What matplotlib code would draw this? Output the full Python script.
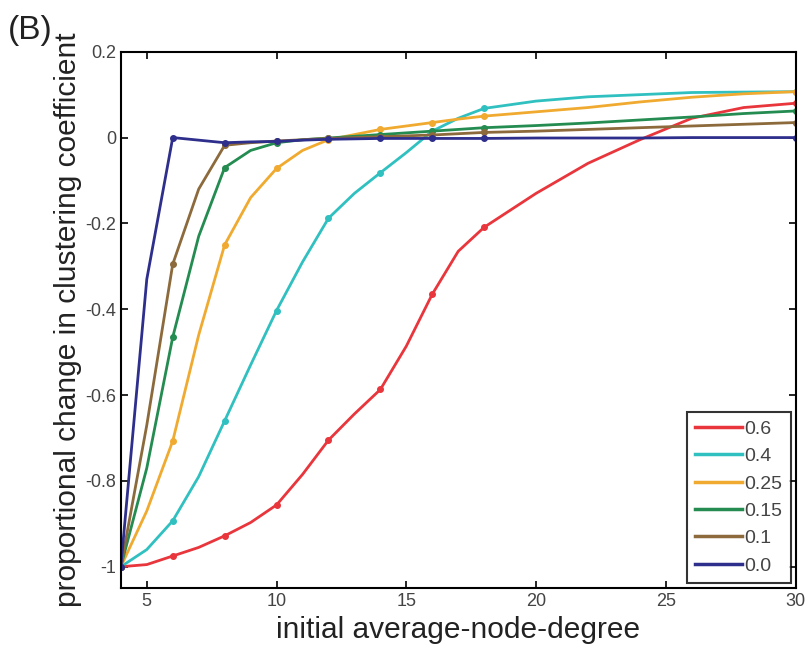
import matplotlib

matplotlib.use("Agg")
import matplotlib.pyplot as plt
from matplotlib.lines import Line2D

# initial average node degree (markers only on the even steps up to 18 and at 30)
degree = [4, 5, 6, 7, 8, 9, 10, 11, 12, 13, 14, 15, 16, 17, 18, 20, 22, 24, 26, 28, 30]
marked_degrees = [4, 6, 8, 10, 12, 14, 16, 18, 30]

labels = ["0.6", "0.4", "0.25", "0.15", "0.1", "0.0"]

change_06 = [-1.0, -0.995, -0.975, -0.955, -0.928, -0.897, -0.856, -0.785, -0.705, -0.644,
             -0.587, -0.486, -0.365, -0.265, -0.209, -0.13, -0.06, -0.005, 0.045, 0.07, 0.08]
change_04 = [-1.0, -0.96, -0.893, -0.79, -0.66, -0.53, -0.403, -0.29, -0.188, -0.13,
             -0.082, -0.035, 0.015, 0.045, 0.068, 0.085, 0.095, 0.1, 0.105, 0.106, 0.107]
change_025 = [-1.0, -0.87, -0.707, -0.46, -0.25, -0.14, -0.072, -0.03, -0.005, 0.007,
              0.019, 0.027, 0.035, 0.043, 0.05, 0.06, 0.07, 0.083, 0.094, 0.102, 0.107]
change_015 = [-1.0, -0.77, -0.465, -0.23, -0.07, -0.03, -0.012, -0.005, -0.001, 0.003,
              0.007, 0.011, 0.015, 0.019, 0.023, 0.028, 0.034, 0.041, 0.048, 0.056, 0.062]
change_01 = [-1.0, -0.67, -0.295, -0.12, -0.018, -0.012, -0.008, -0.005, -0.002, 0.0,
             0.002, 0.004, 0.006, 0.009, 0.012, 0.015, 0.019, 0.023, 0.027, 0.031, 0.035]
change_00 = [-1.0, -0.33, 0.0, -0.006, -0.012, -0.01, -0.009, -0.006, -0.004, -0.003,
             -0.002, -0.002, -0.002, -0.002, -0.002, -0.001, -0.001, -0.001, 0.0, 0.0, 0.0]

series = [change_06, change_04, change_025, change_015, change_01, change_00]
colors = ["#e8363c", "#30c0c0", "#f0aa30", "#248c50", "#8c6a3c", "#2e2e8c"]

plt.rcParams["font.family"] = ["Liberation Sans", "DejaVu Sans"]

fig = plt.figure(figsize=(8.11, 6.55), dpi=100)
ax = fig.add_axes([0.149, 0.102, 0.832, 0.819])

mark_idx = [degree.index(d) for d in marked_degrees]
for values, color in zip(series, colors):
    ax.plot(degree, values, color=color, linewidth=2, marker="o", markersize=4,
            markevery=mark_idx)

ax.set_xlim(4, 30)
ax.set_ylim(-1.05, 0.2)
ax.set_xticks([5, 10, 15, 20, 25, 30])
ax.set_yticks([-1, -0.8, -0.6, -0.4, -0.2, 0, 0.2])
ax.set_yticklabels(["-1", "-0.8", "-0.6", "-0.4", "-0.2", "0", "0.2"])
ax.tick_params(direction="in", top=True, right=True, length=5, width=1.2,
               labelsize=13, labelcolor="#444444")
for spine in ax.spines.values():
    spine.set_linewidth(1.5)

ax.set_xlabel("initial average-node-degree", fontsize=21.5, color="#222222", labelpad=4)
ax.set_ylabel("proportional change in clustering coefficient", fontsize=21.5,
              color="#222222", labelpad=2)

# legend shows plain lines (no markers)
handles = [Line2D([], [], color=c, linewidth=2.5) for c in colors]
leg = ax.legend(handles, labels, loc="lower right", fontsize=14, frameon=True,
                fancybox=False, edgecolor="black", handlelength=2.4,
                handletextpad=0.1, labelspacing=0.5, borderpad=0.45,
                borderaxespad=0.25)
leg.get_frame().set_linewidth(1.5)
for text in leg.get_texts():
    text.set_color("#444444")

fig.text(0.01, 0.94, "(B)", fontsize=24, color="#222222")

fig.savefig("out.png", dpi=100)
plt.close(fig)
